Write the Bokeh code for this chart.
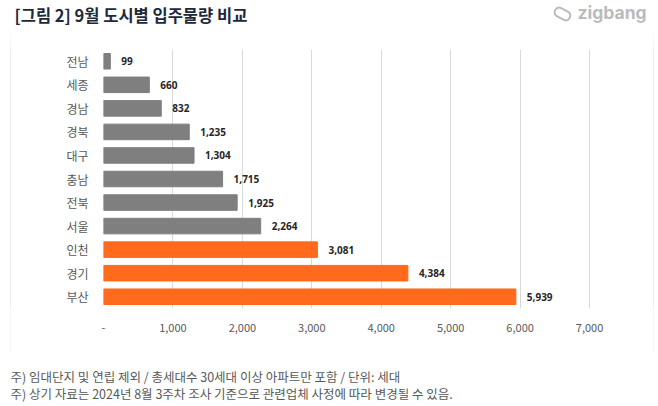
from bokeh.plotting import figure
from bokeh.layouts import column, row
from bokeh.models import (ColumnDataSource, FactorRange, Range1d, FixedTicker,
                          NumeralTickFormatter, Label, Spacer)
from bokeh.core.properties import value
from bokeh.embed import file_html
from bokeh.resources import INLINE

# ---- data (top to bottom as shown) ----
cities = ["전남", "세종", "경남", "경북", "대구", "충남", "전북", "서울", "인천", "경기", "부산"]
units = [99, 660, 832, 1235, 1304, 1715, 1925, 2264, 3081, 4384, 5939]
bar_colors = ["#7f7f7f"] * 8 + ["#ff6a1c"] * 3
x_ticks = [0, 1000, 2000, 3000, 4000, 5000, 6000, 7000]

title_text = "[그림 2] 9월 도시별 입주물량 비교"
note1 = "주) 임대단지 및 연립 제외 / 총세대수 30세대 이상 아파트만 포함 / 단위: 세대"
note2 = "주) 상기 자료는 2024년 8월 3주차 조사 기준으로 관련업체 사정에 따라 변경될 수 있음."

KR = "Noto Sans CJK KR"
BOX = "#d9d9d9"


def blank(w, h, x0, x1, y0, y1, bg="white"):
    f = figure(width=w, height=h, output_backend="svg", toolbar_location=None,
               title=None, x_axis_type=None, y_axis_type=None, min_border=0,
               x_range=Range1d(x0, x1), y_range=Range1d(y0, y1))
    f.outline_line_color = None
    f.background_fill_color = bg
    f.border_fill_color = bg
    return f


# ---- header: title + logo ----
header = blank(656, 33, 0, 656, 33, 0)
header.add_layout(Label(x=14, y=14, text=title_text,
                        text_font=KR, text_font_style="bold", text_font_size="16.5px",
                        text_color="#1e293b", text_baseline="middle", text_align="left"))
header.add_layout(Label(x=577, y=12, text="zigbang",
                        text_font="Inter", text_font_style="bold", text_font_size="17.5px",
                        text_color="#bbbbbb", text_baseline="middle", text_align="left"))
header.add_layout(Label(x=562, y=13.5, text=" ", text_font_size="1px",
                        anchor="center", text_align="center", text_baseline="middle",
                        padding=dict(x=8, y=4), border_radius=4, angle=-0.5,
                        border_line_color="#bbbbbb", border_line_width=2,
                        background_fill_color=None))

# ---- chart ----
source = ColumnDataSource(dict(
    city=cities,
    units=units,
    color=bar_colors,
    label=[f"{v:,}" for v in units],
))

p = figure(width=642, height=318, output_backend="svg", toolbar_location=None,
           title=None,
           y_range=FactorRange(factors=cities[::-1], range_padding=0),
           x_range=Range1d(0, 7878),
           min_border_left=92, min_border_right=3,
           min_border_top=15, min_border_bottom=44)
p.outline_line_color = None
p.background_fill_color = "white"
p.border_fill_color = "white"

p.hbar(y="city", right="units", left=0, height=0.66, source=source,
       fill_color="color", line_color="color")

p.text(x="units", y="city", text="label", source=source,
       x_offset=11, text_baseline="middle", text_align="left",
       text_font=value("Open Sans"), text_font_style="bold",
       text_font_size="10px", text_color="#262626")

xa = p.xaxis[0]
xa.ticker = FixedTicker(ticks=x_ticks)
xa.formatter = NumeralTickFormatter(format="0,0")
xa.major_label_overrides = {0: "-"}
xa.axis_line_color = None
xa.major_tick_line_color = None
xa.minor_tick_line_color = None
xa.major_label_standoff = 9
xa.major_label_text_font = KR
xa.major_label_text_font_size = "11px"
xa.major_label_text_color = "#595959"

ya = p.yaxis[0]
ya.axis_line_color = None
ya.major_tick_line_color = None
ya.major_label_standoff = 9
ya.major_label_text_font = KR
ya.major_label_text_font_size = "12px"
ya.major_label_text_color = "#595959"

p.xgrid.ticker = FixedTicker(ticks=x_ticks)
p.xgrid.grid_line_color = BOX
p.ygrid.grid_line_color = None

# box edges
top_line = blank(644, 1, 0, 1, 0, 1, BOX)
bottom_line = blank(644, 1, 0, 1, 0, 1, BOX)
left_line = blank(1, 318, 0, 1, 0, 1, BOX)
right_line = blank(1, 318, 0, 1, 0, 1, BOX)

boxed = column(top_line, row(left_line, p, right_line, spacing=0), bottom_line, spacing=0)

# ---- footer ----
footer = blank(656, 51, 0, 656, 404, 353)
for txt, yy in [(note1, 376), (note2, 393)]:
    footer.add_layout(Label(x=10, y=yy, text=txt,
                            text_font=KR, text_font_size="12.5px", text_color="#595959",
                            text_baseline="middle", text_align="left"))

layout = column(header, row(Spacer(width=10, height=320), boxed, spacing=0), footer, spacing=0)

open("out.html", "w").write(file_html(layout, INLINE))
